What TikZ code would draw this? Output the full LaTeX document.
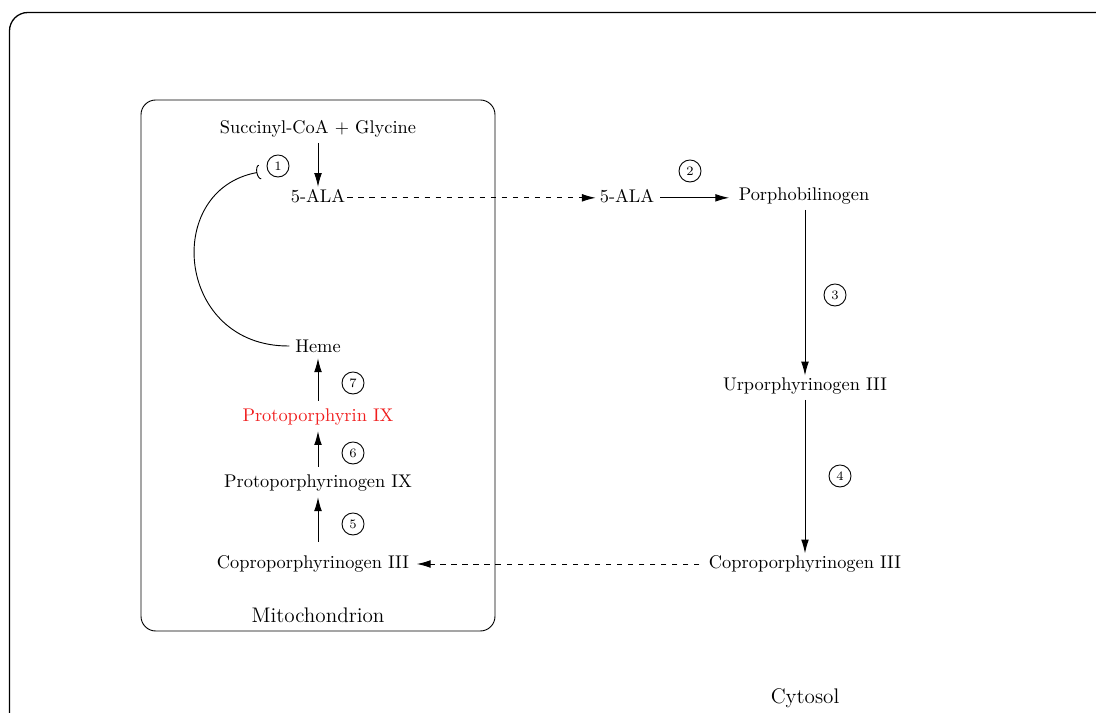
\documentclass[tikz,border=0pt]{standalone}
\usetikzlibrary{arrows.meta}
\begin{document}
\begin{tikzpicture}[x=0.5445pt,y=-0.5445pt,line width=0.5pt,
  lbl/.style={inner sep=1pt},
  num/.style={draw,circle,inner sep=0pt,minimum size=12pt,font=\scriptsize},
  big/.style={font=\fontsize{11.5}{13}\selectfont},
  arr/.style={-{Latex[length=7.5pt,width=4.2pt]}},
  darr/.style={arr,dashed}]
\path[use as bounding box,clip] (0,0) rectangle (1096,713);
\draw[rounded corners=10,line width=0.7pt] (9.5,12.5) rectangle (1120,740);
\draw[rounded corners=8] (141,100) rectangle (495,631);
% mitochondrion
\node[lbl] (sc) at (318,129) {Succinyl-CoA + Glycine};
\node[lbl] (ala1) at (318,196) {5-ALA};
\node[lbl] (heme) at (318,346) {Heme};
\node[lbl,text={rgb,255:red,240;green,30;blue,30}] (ppix) at (318,417) {Protoporphyrin IX};
\node[lbl] (ppgen) at (318,483) {Protoporphyrinogen IX};
\node[lbl] (cp1) at (313,564) {Coproporphyrinogen III};
\node[big] (mito) at (318,615) {Mitochondrion};
\node[num] (n1) at (278,166) {1};
\node[num] (n7) at (353,383) {7};
\node[num] (n6) at (353,453) {6};
\node[num] (n5) at (353,524) {5};
% cytosol
\node[lbl] (ala2) at (627,196) {5-ALA};
\node[lbl] (pbg) at (804,196) {Porphobilinogen};
\node[lbl] (uro) at (805,386) {Urporphyrinogen III};
\node[lbl] (cp2) at (805,564) {Coproporphyrinogen III};
\node[big] (cyto) at (805,698) {Cytosol};
\node[num] (n2) at (690,171) {2};
\node[num] (n3) at (835,295) {3};
\node[num] (n4) at (840,476) {4};
\coordinate (inh) at (260,172);
% arrows
\draw[arr] (318,143) -- (ala1.north);
\draw[arr] (318,401) -- ([yshift=-2pt]heme.south);
\draw[arr] (318,467) -- ([yshift=-2pt]ppix.south);
\draw[arr] (318,542) -- ([yshift=-2pt]ppgen.south);
\draw[darr,shorten >=1pt] ([yshift=-1pt]ala1.east) -- ([yshift=-1pt]ala2.west);
\draw[arr,shorten <=2pt,shorten >=4pt] ([yshift=-1pt]ala2.east) -- ([yshift=-1pt]pbg.west);
\draw[arr] (805,210) -- (uro.north);
\draw[arr] (805,400) -- (cp2.north);
\draw[darr,shorten <=4pt,shorten >=3pt] (cp2.west) -- (cp1.east);
\draw[-{Arc Barb[reversed,length=2pt,width=8pt]}] ([xshift=-2pt]heme.west) .. controls (176,347) and (162,190) .. (inh);
\end{tikzpicture}
\end{document}
